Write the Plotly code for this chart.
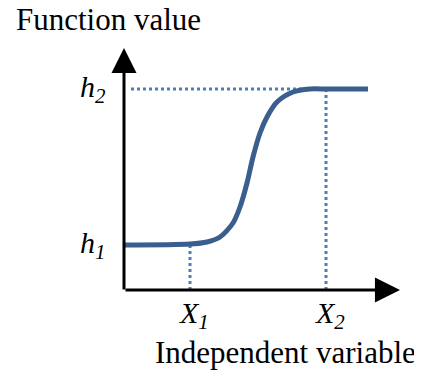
import plotly.graph_objects as go

# Conceptual sigmoid diagram (units: arbitrary)
curve_x = [0, 66, 83, 96, 109, 116, 123, 129, 136, 143, 153, 169, 186, 202, 244]
curve_y = [45, 46, 48, 53, 67, 83, 107, 133, 157, 173, 188, 198, 201, 201, 201]
X1, X2 = 66, 202
h1, h2 = 45, 201
x_max, y_max = 276, 242

x_tick_labels = ["<i>X</i><sub><i>1</i></sub>", "<i>X</i><sub><i>2</i></sub>"]
y_tick_labels = ["<i>h</i><sub><i>1</i></sub>", "<i>h</i><sub><i>2</i></sub>"]
x_title = "Independent variable"
y_title = "Function value"

dot_color = "#4A7EBB"
curve_color = "#3A5F8F"
font_family = "Times New Roman, Liberation Serif, DejaVu Serif, serif"


def px(v):
    return v / x_max


def py(v):
    return v / y_max


fig = go.Figure()

# dotted guide lines
fig.add_trace(go.Scatter(x=[7, X2], y=[h2, h2], mode="lines",
                         line=dict(color=dot_color, width=3, dash="dot"), hoverinfo="skip"))
fig.add_trace(go.Scatter(x=[X1, X1], y=[0, h1], mode="lines",
                         line=dict(color=dot_color, width=3, dash="dot"), hoverinfo="skip"))
fig.add_trace(go.Scatter(x=[X2, X2], y=[0, h2], mode="lines",
                         line=dict(color=dot_color, width=3, dash="dot"), hoverinfo="skip"))

# main curve
fig.add_trace(go.Scatter(x=curve_x, y=curve_y, mode="lines",
                         line=dict(color=curve_color, width=5, shape="spline", smoothing=0.8),
                         hoverinfo="skip"))

annotations = []
# axis arrows
annotations.append(dict(x=x_max, y=0, ax=0, ay=0, xref="x", yref="y", axref="x", ayref="y",
                        showarrow=True, arrowhead=2, arrowwidth=3, arrowsize=1.67,
                        arrowcolor="black", text=""))
annotations.append(dict(x=0, y=y_max, ax=0, ay=-1, xref="x", yref="y", axref="x", ayref="y",
                        showarrow=True, arrowhead=2, arrowwidth=3, arrowsize=1.67,
                        arrowcolor="black", text=""))

# tick labels
for xv, lab in zip([X1, X2], x_tick_labels):
    annotations.append(dict(x=px(xv + 4), y=py(-25), xref="paper", yref="paper", text=lab,
                            showarrow=False, xanchor="center", yanchor="middle",
                            font=dict(family=font_family, size=30, color="black")))
for yv, lab in zip([h1, h2], y_tick_labels):
    annotations.append(dict(x=px(-16), y=py(yv), xref="paper", yref="paper", text=lab,
                            showarrow=False, xanchor="right", yanchor="middle",
                            font=dict(family=font_family, size=30, color="black")))

# titles
annotations.append(dict(x=px(-110), y=py(270), xref="paper", yref="paper", text=y_title,
                        showarrow=False, xanchor="left", yanchor="middle",
                        font=dict(family=font_family, size=31, color="black")))
annotations.append(dict(x=px(161), y=py(-62), xref="paper", yref="paper", text=x_title,
                        showarrow=False, xanchor="center", yanchor="middle",
                        font=dict(family=font_family, size=31, color="black")))

fig.update_layout(
    width=422, height=375,
    margin=dict(l=116, r=30, t=40, b=93),
    paper_bgcolor="white", plot_bgcolor="white",
    showlegend=False,
    font=dict(family=font_family),
    annotations=annotations,
    xaxis=dict(range=[0, x_max], visible=False, fixedrange=True),
    yaxis=dict(range=[0, y_max], visible=False, fixedrange=True),
)

fig.write_html("out.html", config={"displayModeBar": False})
